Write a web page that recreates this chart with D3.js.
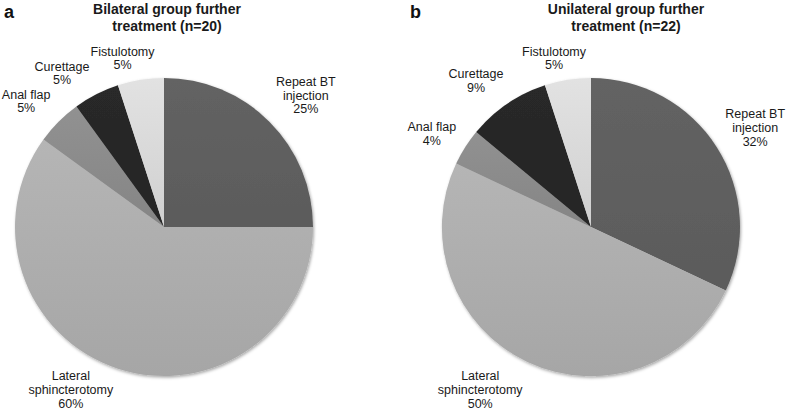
<!DOCTYPE html>
<html>
<head>
<meta charset="utf-8">
<script src="https://cdn.jsdelivr.net/npm/d3@7"></script>
<style>
  html, body { margin: 0; padding: 0; background: #fff; }
  svg { display: block; font-family: "Liberation Sans", Arial, sans-serif; }
</style>
</head>
<body>
<svg id="chart" width="788" height="410"></svg>
<script>
// ---- data ----
const categories = ["Repeat BT injection", "Lateral sphincterotomy", "Anal flap", "Curettage", "Fistulotomy"];
const labelLines = [["Repeat BT", "injection"], ["Lateral", "sphincterotomy"], ["Anal flap"], ["Curettage"], ["Fistulotomy"]];
const bilateralValues = [25, 60, 5, 5, 5];
const unilateralValues = [32, 50, 4, 9, 5];
const panelLetters = ["a", "b"];
const panelTitles = [["Bilateral group further", "treatment (n=20)"], ["Unilateral group further", "treatment (n=22)"]];

// ---- style / layout ----
const colors = ["#5f5f5f", "#adadad", "#8b8b8b", "#272727", "#d9d9d9"];
const R = 149;
const panels = [
  { cx: 164, cy: 227, values: bilateralValues, letterX: 4, titleX: 167,
    nudges: [[11, -1], [-36, -13], [-7, 5], [-18, 11], [-12.5, 14]] },
  { cx: 591, cy: 227, values: unilateralValues, letterX: 410, titleX: 626,
    nudges: [[8, 0], [-32, -4.5], [-3, 6], [-11, 7], [-8, 14]] }
];

const svg = d3.select("#chart");
const defs = svg.append("defs");

colors.forEach((c, i) => {
  const base = d3.color(c);
  const g = defs.append("linearGradient").attr("id", "grad" + i)
    .attr("x1", 0).attr("y1", 0).attr("x2", 0).attr("y2", 1);
  g.append("stop").attr("offset", "0%").attr("stop-color", base.brighter(0.12));
  g.append("stop").attr("offset", "100%").attr("stop-color", base.darker(0.12));
});

const f = defs.append("filter").attr("id", "shadow")
  .attr("x", "-10%").attr("y", "-10%").attr("width", "120%").attr("height", "120%");
f.append("feDropShadow").attr("dx", 1).attr("dy", 1.5).attr("stdDeviation", 1.6)
  .attr("flood-color", "#000").attr("flood-opacity", 0.35);

const pie = d3.pie().sort(null).value(d => d);
const arc = d3.arc().innerRadius(0).outerRadius(R);
const labelArc = d3.arc().innerRadius(185).outerRadius(185);
const lineH = 13.8;

panels.forEach((p, pi) => {
  const g = svg.append("g").attr("transform", `translate(${p.cx},${p.cy})`);
  const arcs = pie(p.values);

  g.append("g").attr("filter", "url(#shadow)")
    .selectAll("path").data(arcs).join("path")
    .attr("d", arc)
    .attr("fill", (d, i) => `url(#grad${i})`);

  arcs.forEach((d, i) => {
    const [x, y] = labelArc.centroid(d);
    const lx = x + p.nudges[i][0], ly = y + p.nudges[i][1];
    const lines = labelLines[i].concat([d3.format(".0f")(p.values[i]) + "%"]);
    const t = g.append("text")
      .attr("text-anchor", "middle")
      .attr("font-size", 12.5)
      .attr("fill", "#1a1a1a");
    const y0 = ly - (lines.length - 1) * lineH / 2 + 4.3;
    lines.forEach((s, k) => {
      t.append("tspan").attr("x", lx).attr("y", y0 + k * lineH).text(s);
    });
  });

  svg.append("text").attr("x", p.letterX).attr("y", 18)
    .attr("font-size", 18).attr("font-weight", "bold").attr("fill", "#111")
    .text(panelLetters[pi]);

  const tt = svg.append("text").attr("text-anchor", "middle")
    .attr("font-size", 14).attr("font-weight", "bold").attr("fill", "#1a1a1a");
  panelTitles[pi].forEach((s, k) => {
    tt.append("tspan").attr("x", p.titleX).attr("y", 14 + k * 17).text(s);
  });
});
</script>
</body>
</html>
